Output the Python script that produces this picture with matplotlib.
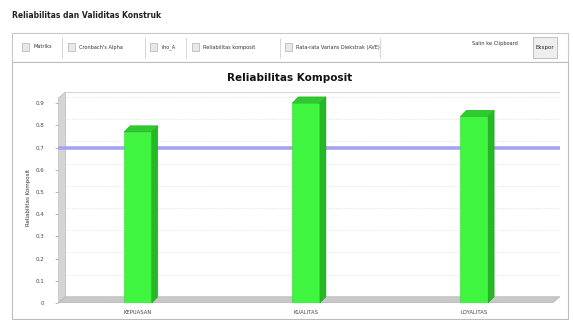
import matplotlib
matplotlib.use("Agg")
import matplotlib.pyplot as plt
from matplotlib.patches import Rectangle, Polygon
import numpy as np

categories = ["KEPUASAN", "KUALITAS", "LOYALITAS"]
values = [0.77, 0.90, 0.84]
threshold = 0.7
yticks = [0, 0.1, 0.2, 0.3, 0.4, 0.5, 0.6, 0.7, 0.8, 0.9]
ytick_labels = ["0", "0.1", "0.2", "0.3", "0.4", "0.5", "0.6", "0.7", "0.8", "0.9"]
tabs = ["Matriks", "Cronbach's Alpha", "rho_A", "Reliabilitas komposit",
        "Rata-rata Varians Diekstrak (AVE)"]

W, H = 573, 320
fig = plt.figure(figsize=(W / 100, H / 100), dpi=100)
fig.patch.set_facecolor("white")

def fx(x):
    return x / W

def fy(y):
    return 1 - y / H

# page title
fig.text(fx(12), fy(16), "Reliabilitas dan Validitas Konstruk", fontsize=5.5,
         fontweight="bold", va="center", ha="left", color="#222222")

# toolbar box
fig.patches.append(Rectangle((fx(12), fy(62)), fx(556), 29 / H, transform=fig.transFigure,
                             facecolor="white", edgecolor="#c8c8c8", lw=0.8, zorder=-1))
tab_x = [22, 68, 150, 192, 285]
sep_x = [62, 145, 186, 280, 380]
for tx, lab in zip(tab_x, tabs):
    fig.patches.append(Rectangle((fx(tx), fy(51)), 7 / W, 8 / H, transform=fig.transFigure,
                                 facecolor="#e8e8e8", edgecolor="#b0b0b0", lw=0.5))
    fig.text(fx(tx + 11), fy(47), lab, fontsize=3.6, va="center", ha="left", color="#333333")
for sx in sep_x:
    fig.lines.append(plt.Line2D([fx(sx), fx(sx)], [fy(38), fy(58)], transform=fig.transFigure,
                                color="#d0d0d0", lw=0.6))
fig.text(fx(495), fy(44), "Salin ke Clipboard", fontsize=3.6, va="center", ha="center",
         color="#333333")
fig.patches.append(Rectangle((fx(533), fy(58)), 24 / W, 21 / H, transform=fig.transFigure,
                             facecolor="#eeeeee", edgecolor="#b8b8b8", lw=0.6))
fig.text(fx(545), fy(47), "Ekspor", fontsize=4, va="center", ha="center", color="#222222")

# chart panel border
fig.patches.append(Rectangle((fx(12), fy(319)), fx(556), 257 / H, transform=fig.transFigure,
                             facecolor="white", edgecolor="#bdbdbd", lw=0.8, zorder=-1))

fig.text(fx(290), fy(78), "Reliabilitas Komposit", fontsize=7.5, fontweight="bold",
         va="center", ha="center", color="#111111")

# axes: x from 58 to 560, y from 92 (top) to 303 (zero)
ax = fig.add_axes([fx(58), fy(303), (560 - 58) / W, (303 - 92) / H])
ax.set_zorder(2)
ax.set_facecolor("white")
xlim = (-0.475, 2.51)
ylim = (0, 0.95)
ax.set_xlim(*xlim)
ax.set_ylim(*ylim)
for s in ax.spines.values():
    s.set_visible(False)

# 3D walls: left wall and floor
dx, dy = 0.045, 0.028
ax.add_patch(Polygon([[xlim[0], 0], [xlim[0] + dx, dy], [xlim[0] + dx, ylim[1]],
                      [xlim[0], ylim[1] - dy]], closed=True, facecolor="#d4d4d4",
                     edgecolor="#bbbbbb", lw=0.5, zorder=1))
ax.add_patch(Polygon([[xlim[0], 0], [xlim[1] - dx, 0], [xlim[1], dy], [xlim[0] + dx, dy]],
                     closed=True, facecolor="#c8c8c8", edgecolor="#b5b5b5", lw=0.5, zorder=1))
ax.plot([xlim[0] + dx, xlim[1]], [ylim[1] - 0.002, ylim[1] - 0.002], color="#cccccc", lw=0.6)
ax.plot([xlim[1] - 0.002, xlim[1] - 0.002], [dy, ylim[1]], color="#cccccc", lw=0.6)

# gridlines on back wall
for t in yticks[1:]:
    ax.plot([xlim[0] + dx, xlim[1]], [t + dy, t + dy], color="#dcdcdc", lw=0.5,
            ls=(0, (2, 2)), zorder=1.5)

# bars with 3D faces
bw = 0.165
x = np.arange(len(categories))
ax.bar(x, values, width=bw, color="#40f540", edgecolor="#30d830", lw=0.4, zorder=4)
for xi, v in zip(x, values):
    right = xi + bw / 2
    left = xi - bw / 2
    ax.add_patch(Polygon([[right, 0], [right + dx * 0.8, dy], [right + dx * 0.8, v + dy],
                          [right, v]], closed=True, facecolor="#26b826",
                         edgecolor="#1e9e1e", lw=0.3, zorder=4))
    ax.add_patch(Polygon([[left, v], [left + dx * 0.8, v + dy], [right + dx * 0.8, v + dy],
                          [right, v]], closed=True, facecolor="#2ccc2c",
                         edgecolor="#1e9e1e", lw=0.3, zorder=4))

# threshold line
ax.axhline(threshold, color="#a4a4ee", lw=2.6, zorder=3)

ax.set_yticks(yticks)
ax.set_yticklabels(ytick_labels, fontsize=4, color="#444444")
ax.set_xticks(x)
ax.set_xticklabels(categories, fontsize=3.8, color="#444444")
ax.tick_params(axis="y", length=2, width=0.4, color="#888888", pad=8)
ax.tick_params(axis="x", length=0, pad=5)
ax.set_ylabel("Reliabilitas Komposit", fontsize=4, color="#333333", labelpad=3)

fig.savefig("out.png", dpi=100, facecolor="white")
